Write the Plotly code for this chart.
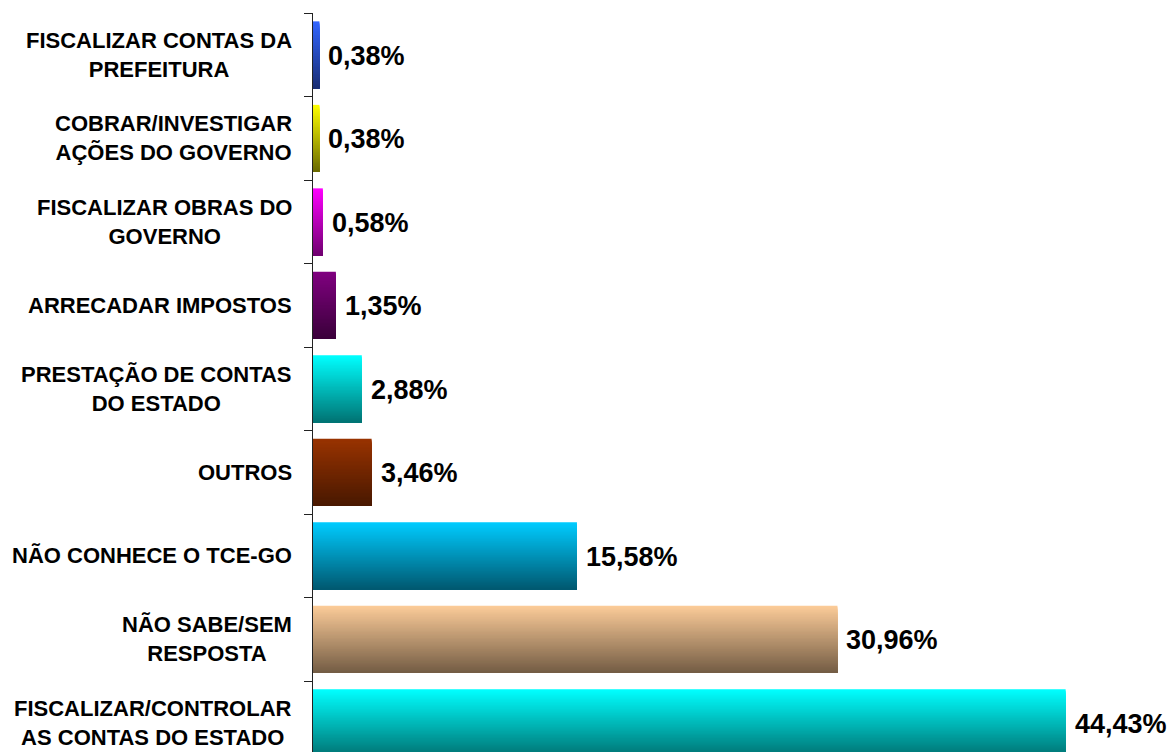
import plotly.graph_objects as go

# ---- data (bottom to top) ----
categories = [
    "FISCALIZAR/CONTROLAR<br>AS CONTAS DO ESTADO",
    "NÃO SABE/SEM<br>RESPOSTA",
    "NÃO CONHECE O TCE-GO",
    "OUTROS",
    "PRESTAÇÃO DE CONTAS<br>DO ESTADO",
    "ARRECADAR IMPOSTOS",
    "FISCALIZAR OBRAS DO<br>GOVERNO",
    "COBRAR/INVESTIGAR<br>AÇÕES DO GOVERNO",
    "FISCALIZAR CONTAS DA<br>PREFEITURA",
]
values = [44.43, 30.96, 15.58, 3.46, 2.88, 1.35, 0.58, 0.38, 0.38]

# ---- styles ----
top_colors = [
    (0, 255, 255),
    (252, 204, 153),
    (0, 204, 255),
    (153, 51, 0),
    (0, 255, 255),
    (128, 0, 128),
    (255, 0, 255),
    (255, 255, 0),
    (51, 102, 255),
]
bottom_colors = [
    (0, 115, 115),
    (115, 92, 68),
    (0, 88, 112),
    (72, 24, 0),
    (0, 115, 115),
    (58, 0, 58),
    (112, 0, 112),
    (105, 105, 0),
    (25, 45, 115),
]

FONT = "Liberation Sans, Arial, sans-serif"
BAR_W = 0.8
N = 48


def mix(c1, c2, t):
    return "rgb({},{},{})".format(*[round(a + (b - a) * t) for a, b in zip(c1, c2)])


fig = go.Figure()
# vertical gradient: stacked bars sharing the bottom edge, progressively shorter & darker
for i in range(N):
    height = BAR_W * (N - i) / N
    t = (i + 0.5) / N
    fig.add_trace(go.Bar(
        y=categories,
        x=values,
        orientation="h",
        width=height,
        offset=-BAR_W / 2,
        marker=dict(color=[mix(tc, bc, t) for tc, bc in zip(top_colors, bottom_colors)],
                    line=dict(width=0)),
        hoverinfo="skip",
        showlegend=False,
    ))

annotations = []
for cat, v in zip(categories, values):
    annotations.append(dict(
        x=v, y=cat, xref="x", yref="y",
        text=f"{v:.2f}".replace(".", ",") + "%",
        showarrow=False, xanchor="left", yanchor="middle", xshift=7, yshift=-1,
        font=dict(family=FONT, size=27, color="black", weight="bold"),
    ))
    annotations.append(dict(
        x=0, y=cat, xref="paper", yref="y",
        text=cat, showarrow=False, xanchor="right", yanchor="middle",
        align="center", xshift=-19,
        font=dict(family=FONT, size=22, color="black", weight="bold"),
    ))

# page body adds an 8px offset; compensate so the plot area lands where the reference has it
fig.update_layout(
    width=1167, height=744,
    margin=dict(l=305, r=15, t=5, b=0),
    barmode="overlay",
    paper_bgcolor="white", plot_bgcolor="white",
    xaxis=dict(range=[0, 50], visible=False),
    yaxis=dict(
        type="category", categoryorder="array", categoryarray=categories,
        range=[-0.35, 8.5],
        showline=True, linecolor="#222", linewidth=1,
        ticks="outside", ticklen=8, tickcolor="#222", tickson="boundaries",
        showticklabels=False, showgrid=False, zeroline=False,
    ),
    annotations=annotations,
)

fig.write_html("out.html")
